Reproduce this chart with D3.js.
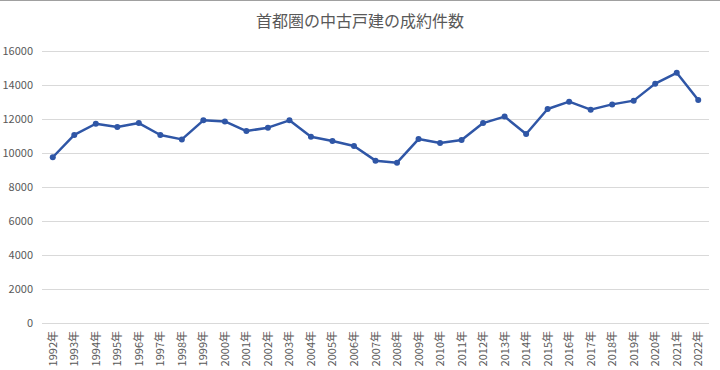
<!DOCTYPE html>
<html>
<head>
<meta charset="utf-8">
<script src="https://cdn.jsdelivr.net/npm/d3@7"></script>
<style>
  body { margin: 0; background: #fff; }
  svg { display: block; font-family: "Noto Sans CJK JP", "Liberation Sans", sans-serif; }
</style>
</head>
<body>
<svg id="chart" width="720" height="370"></svg>
<script>
// 首都圏の中古戸建 成約件数
var years = ["1992年","1993年","1994年","1995年","1996年","1997年","1998年","1999年","2000年","2001年",
             "2002年","2003年","2004年","2005年","2006年","2007年","2008年","2009年","2010年","2011年",
             "2012年","2013年","2014年","2015年","2016年","2017年","2018年","2019年","2020年","2021年","2022年"];
var counts = [9750, 11060, 11720, 11530, 11760, 11060, 10800, 11920, 11860, 11290,
              11490, 11920, 10960, 10710, 10410, 9550, 9430, 10820, 10590, 10760,
              11760, 12140, 11120, 12590, 13020, 12550, 12860, 13080, 14080, 14720, 13120];
var yTicks = [0, 2000, 4000, 6000, 8000, 10000, 12000, 14000, 16000];

var svg = d3.select("#chart");
var plotL = 42, plotR = 709, plotT = 51, plotB = 323;

// top border line
svg.append("line")
    .attr("x1", 0).attr("x2", 720)
    .attr("y1", 0.5).attr("y2", 0.5)
    .attr("stroke", "#a0a0a0").attr("stroke-width", 1);

svg.append("text")
    .attr("x", 360).attr("y", 27)
    .attr("text-anchor", "middle")
    .attr("font-size", 16)
    .attr("fill", "#595959")
    .text("首都圏の中古戸建の成約件数");

var x = d3.scaleBand().domain(years).range([plotL, plotR]);
var y = d3.scaleLinear().domain([0, 16000]).range([plotB, plotT]);

// gridlines
svg.append("g").selectAll("line").data(yTicks).enter().append("line")
    .attr("x1", plotL).attr("x2", plotR)
    .attr("y1", function(d){ return Math.round(y(d)) + 0.5; })
    .attr("y2", function(d){ return Math.round(y(d)) + 0.5; })
    .attr("stroke", "#d9d9d9").attr("stroke-width", 1);

// y labels
svg.append("g").selectAll("text").data(yTicks).enter().append("text")
    .attr("x", 33)
    .attr("y", function(d){ return y(d) + 4; })
    .attr("text-anchor", "end")
    .attr("font-size", 11)
    .attr("fill", "#595959")
    .text(function(d){ return d; });

// x labels, rotated
svg.append("g").selectAll("text").data(years).enter().append("text")
    .attr("transform", function(d){
	return "translate(" + (x(d) + x.bandwidth() / 2 + 4) + "," + 331 + ") rotate(-90)"; })
    .attr("text-anchor", "end")
    .attr("font-size", 11)
    .attr("fill", "#595959")
    .text(function(d){ return d; });

var line = d3.line()
    .x(function(d, i){ return x(years[i]) + x.bandwidth() / 2; })
    .y(function(d){ return y(d); });

svg.append("path")
    .datum(counts)
    .attr("d", line)
    .attr("fill", "none")
    .attr("stroke", "#2f56a6")
    .attr("stroke-width", 2.5)
    .attr("stroke-linejoin", "round");

svg.append("g").selectAll("circle").data(counts).enter().append("circle")
    .attr("cx", function(d, i){ return x(years[i]) + x.bandwidth() / 2; })
    .attr("cy", function(d){ return y(d); })
    .attr("r", 3)
    .attr("fill", "#2f56a6");
</script>
</body>
</html>
